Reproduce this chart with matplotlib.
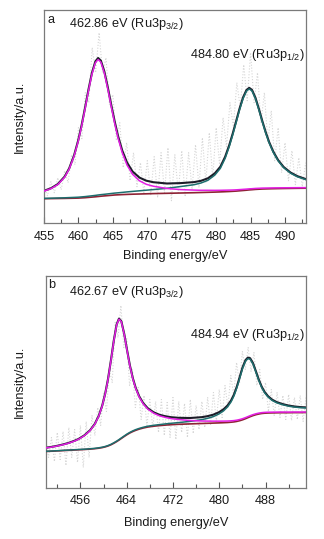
import numpy as np
import matplotlib
matplotlib.use('Agg')
import matplotlib.pyplot as plt
from matplotlib.ticker import FixedLocator

plt.rcParams['font.family'] = ['Liberation Sans', 'DejaVu Sans']
plt.rcParams['mathtext.fontset'] = 'custom'
plt.rcParams['mathtext.rm'] = 'Liberation Sans'
plt.rcParams['mathtext.it'] = 'Liberation Sans:italic'
plt.rcParams['mathtext.bf'] = 'Liberation Sans:bold'

# ---------------- Panel a data ----------------
xa = [455.0, 456.0, 457.0, 458.0, 458.66, 459.36, 459.96, 460.46, 460.96, 461.46,
      461.96, 462.46, 462.86, 463.26, 463.76, 464.26, 464.76, 465.26, 465.76, 466.36,
      467.06, 467.86, 468.86, 469.86, 470.86, 472.86, 474.86, 476.8, 477.8, 478.8,
      479.8, 480.6, 481.3, 481.9, 482.4, 482.9, 483.4, 483.9, 484.4, 484.8,
      485.2, 485.7, 486.2, 486.7, 487.2, 487.7, 488.3, 489.0, 489.8, 490.8,
      491.8, 493.0]
bg_a = [24.0, 24.1, 24.2, 24.3, 24.4, 24.5, 24.6, 24.8, 25.0, 25.3,
        25.6, 25.9, 26.2, 26.5, 26.8, 27.1, 27.4, 27.7, 27.9, 28.1,
        28.3, 28.5, 28.7, 28.9, 29.1, 29.4, 29.7, 30.0, 30.2, 30.4,
        30.6, 30.8, 31.0, 31.2, 31.4, 31.6, 31.9, 32.2, 32.5, 32.8,
        33.0, 33.3, 33.5, 33.7, 33.8, 33.9, 34.0, 34.1, 34.2, 34.3,
        34.4, 34.5]
p1_a = [7.6, 9.9, 13.9, 21.2, 29.3, 41.9, 56.6, 71.7, 88.8, 106.7,
        122.9, 134.0, 137.0, 134.0, 122.9, 106.7, 88.8, 71.7, 56.6, 41.9,
        29.3, 19.9, 13.2, 9.5, 7.4, 4.8, 3.4, 2.6, 2.2, 2.0,
        1.75, 1.6, 1.5, 1.4, 1.3, 1.26, 1.2, 1.15, 1.1, 1.05,
        1.0, 0.97, 0.93, 0.9, 0.86, 0.82, 0.79, 0.75, 0.71, 0.66,
        0.61, 0.56]
p2_a = [0.3, 0.4, 0.5, 0.6, 0.7, 0.8, 0.9, 1.0, 1.1, 1.2,
        1.3, 1.4, 1.5, 1.55, 1.6, 1.7, 1.8, 1.9, 2.0, 2.2,
        2.5, 2.8, 3.2, 3.6, 4.0, 5.0, 6.5, 8.0, 9.5, 12.0,
        17.0, 23.5, 33.4, 45.0, 56.4, 68.7, 81.1, 91.9, 99.1, 101.0,
        98.8, 90.8, 79.4, 67.1, 55.7, 45.8, 36.2, 27.7, 20.8, 15.2,
        11.5, 8.6]
raw_a_start, raw_a_step = 455.0, 0.5
raw_a = [36, 27, 41, 30, 45, 33, 52, 40, 68, 58,
         95, 84, 130, 120, 175, 150, 190, 150, 165, 118,
         128, 82, 100, 55, 80, 42, 70, 36, 60, 30,
         62, 28, 66, 25, 70, 30, 75, 22, 68, 30,
         72, 26, 70, 33, 78, 35, 85, 40, 90, 45,
         95, 58, 105, 76, 120, 96, 140, 115, 158, 122,
         170, 120, 150, 100, 130, 80, 112, 62, 95, 50,
         80, 42, 72, 38, 65, 36, 60]
ticks_a = [455, 460, 465, 470, 475, 480, 485, 490]
minor_a = [457.5, 462.5, 467.5, 472.5, 477.5, 482.5, 487.5, 492.5]
label_a1 = r'462.86 eV (Ru3p$_{3/2}$)'
label_a2 = r'484.80 eV (Ru3p$_{1/2}$)'

# ---------------- Panel b data ----------------
xb = [450.0, 451.0, 452.0, 453.0, 454.0, 455.0, 455.67, 456.67, 457.67, 458.47,
      459.17, 459.77, 460.27, 460.77, 461.27, 461.77, 462.27, 462.67, 463.07, 463.57,
      464.07, 464.57, 465.07, 465.57, 466.17, 466.87, 467.67, 468.67, 469.67, 470.67,
      471.67, 472.94, 474.94, 476.94, 477.94, 478.94, 479.94, 480.74, 481.44, 482.04,
      482.54, 483.04, 483.54, 484.04, 484.54, 484.94, 485.34, 485.84, 486.34, 486.84,
      487.34, 487.84, 488.44, 489.14, 489.94, 490.94, 491.94, 492.94, 493.94, 495.0]
bg_b = [36.0, 36.3, 36.6, 36.9, 37.2, 37.5, 37.7, 38.0, 38.4, 38.8,
        39.3, 39.9, 40.6, 41.5, 42.7, 44.2, 45.9, 47.4, 49.0, 51.0,
        52.9, 54.6, 56.0, 57.2, 58.4, 59.5, 60.5, 61.3, 61.9, 62.4,
        62.8, 63.2, 63.6, 64.0, 64.2, 64.4, 64.6, 64.8, 65.0, 65.3,
        65.6, 66.1, 66.8, 67.7, 68.8, 69.8, 70.8, 71.9, 72.8, 73.5,
        74.0, 74.3, 74.5, 74.6, 74.7, 74.8, 74.8, 74.9, 74.9, 75.0]
p1_b = [3.6, 4.1, 4.9, 5.9, 7.2, 9.0, 10.5, 13.8, 18.5, 24.3,
        32.0, 41.6, 52.5, 66.5, 83.8, 102.2, 116.8, 121.0, 116.8, 102.2,
        83.8, 66.5, 52.5, 41.6, 32.0, 24.0, 17.8, 13.0, 9.8, 7.7,
        6.1, 4.8, 3.4, 2.5, 2.2, 1.95, 1.74, 1.59, 1.47, 1.38,
        1.31, 1.25, 1.19, 1.14, 1.09, 1.05, 1.01, 0.97, 0.93, 0.89,
        0.86, 0.82, 0.79, 0.75, 0.70, 0.65, 0.61, 0.57, 0.54, 0.50]
p2_b = [0.2, 0.2, 0.2, 0.25, 0.25, 0.3, 0.3, 0.3, 0.35, 0.35,
        0.4, 0.4, 0.4, 0.45, 0.45, 0.5, 0.5, 0.5, 0.55, 0.55,
        0.6, 0.6, 0.65, 0.7, 0.7, 0.75, 0.8, 0.9, 1.0, 1.2,
        1.4, 1.7, 2.5, 3.8, 4.9, 6.4, 8.9, 11.8, 15.6, 20.3,
        26.0, 33.5, 42.5, 51.5, 57.5, 59.0, 57.5, 51.5, 42.5, 33.5,
        26.0, 20.5, 16.0, 12.5, 10.0, 8.0, 6.6, 5.6, 5.0, 4.6]
raw_b_start, raw_b_step = 450.0, 0.5
raw_b = [48, 30, 50, 26, 55, 28, 56, 22, 60, 30,
         58, 25, 62, 20, 66, 30, 72, 52, 80, 62,
         95, 76, 118, 105, 165, 150, 182, 140, 150, 102,
         118, 80, 100, 68, 92, 62, 88, 60, 86, 55,
         88, 52, 85, 50, 90, 48, 86, 55, 84, 50,
         88, 54, 82, 58, 86, 60, 90, 62, 95, 66,
         98, 70, 102, 80, 112, 92, 125, 104, 136, 118,
         140, 116, 135, 102, 118, 88, 105, 76, 98, 72,
         95, 70, 92, 68, 93, 67, 90, 68, 92, 66,
         90]
ticks_b = [456, 464, 472, 480, 488]
minor_b = [452, 460, 468, 476, 484, 492]
label_b1 = r'462.67 eV (Ru3p$_{3/2}$)'
label_b2 = r'484.94 eV (Ru3p$_{1/2}$)'

C_RAW = '#d6d6d6'
C_BG = '#8e2234'
C_P1 = '#e31ee3'
C_P2 = '#1d6e6e'
C_ENV = '#1c1c28'
TXT = '#1a1a1a'
FS = 9.2

W, H = 324.0, 539.0
fig = plt.figure(figsize=(W / 100, H / 100), dpi=100)


def make_axes(l, t, r, b):
    return fig.add_axes([l / W, 1 - b / H, (r - l) / W, (b - t) / H])


def draw(ax, x, bg, p1, p2, raw, rstart, rstep, xlim, ylim, ticks, minor,
         tag, lab1, lab2, pos_tag, pos1, pos2, pad, ylab_x, xlab_y):
    x = np.asarray(x, float)
    bg = np.asarray(bg, float)
    p1 = np.asarray(p1, float)
    p2 = np.asarray(p2, float)
    xr = rstart + rstep * np.arange(len(raw))
    ax.plot(xr, raw, ls=(0, (1, 1.6)), color=C_RAW, lw=0.8, zorder=1)
    ax.plot(x, bg + p1 + p2, color=C_ENV, lw=1.5, zorder=2)
    ax.plot(x, bg, color=C_BG, lw=1.2, zorder=3)
    ax.plot(x, bg + p2, color=C_P2, lw=1.1, zorder=4)
    ax.plot(x, bg + p1, color=C_P1, lw=1.1, zorder=5)
    ax.set_xlim(*xlim)
    ax.set_ylim(*ylim)
    ax.xaxis.set_major_locator(FixedLocator(ticks))
    ax.xaxis.set_minor_locator(FixedLocator(minor))
    ax.tick_params(axis='x', which='both', direction='in', bottom=True, top=False,
                   labelsize=FS, labelcolor=TXT, color='#555555', width=0.8, pad=pad)
    ax.tick_params(axis='x', which='major', length=4)
    ax.tick_params(axis='x', which='minor', length=3)
    ax.tick_params(axis='y', left=False, labelleft=False)
    for s in ax.spines.values():
        s.set_color('#7a7a7a')
        s.set_linewidth(0.9)
    ax.set_xlabel('Binding energy/eV', fontsize=FS, color=TXT)
    ax.set_ylabel('Intensity/a.u.', fontsize=FS, color=TXT)
    ax.yaxis.set_label_coords(ylab_x, 0.5)
    ax.xaxis.set_label_coords(0.5, xlab_y)
    ax.text(*pos_tag, tag, transform=ax.transAxes, fontsize=FS, color=TXT,
            ha='left', va='baseline')
    ax.text(*pos1, lab1, transform=ax.transAxes, fontsize=FS, color=TXT,
            ha='left', va='baseline')
    ax.text(*pos2, lab2, transform=ax.transAxes, fontsize=FS, color=TXT,
            ha='left', va='baseline')


# panel a: axes box in pixels
la, ta, ra, ba = 44.0, 10.0, 305.7, 222.7
axA = make_axes(la, ta, ra, ba)
wa, ha_ = ra - la, ba - ta


def fa(px, py):
    return ((px - la) / wa, (ba - py) / ha_)


draw(axA, xa, bg_a, p1_a, p2_a, raw_a, raw_a_start, raw_a_step,
     (455, 493), (0, ba - ta), ticks_a, minor_a,
     'a', label_a1, label_a2, fa(47, 23), fa(69, 27), fa(190, 58),
     6.0, (26 - la) / wa, -(250 - ba) / ha_)

# panel b
lb, tb, rb, bb = 45.7, 276.0, 306.0, 487.5
axB = make_axes(lb, tb, rb, bb)
wb, hb = rb - lb, bb - tb


def fb(px, py):
    return ((px - lb) / wb, (bb - py) / hb)


draw(axB, xb, bg_b, p1_b, p2_b, raw_b, raw_b_start, raw_b_step,
     (450, 495), (0, bb - tb), ticks_b, minor_b,
     'b', label_b1, label_b2, fb(48, 288), fb(69, 295), fb(190, 338),
     5.5, (26 - lb) / wb, -(517 - bb) / hb)

fig.savefig('out.png', dpi=100)
